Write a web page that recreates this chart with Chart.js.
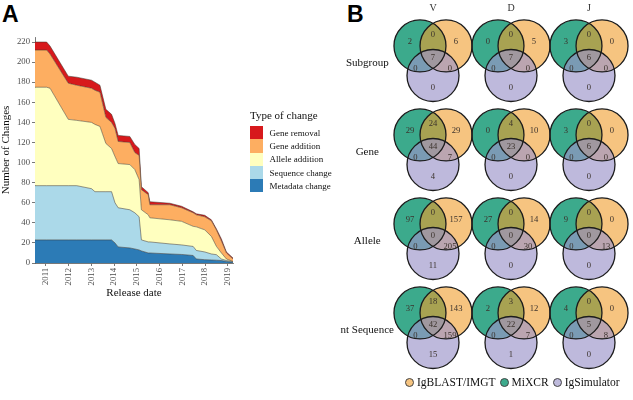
<!DOCTYPE html>
<html>
<head>
<meta charset="utf-8">
<script src="https://cdn.jsdelivr.net/npm/chart.js@4.4.1/dist/chart.umd.min.js"></script>
<style>
  body { margin: 0; background: #fff; width: 633px; height: 400px; position: relative; overflow: hidden;
         font-family: "Liberation Serif", "Times New Roman", serif; }
  canvas { position: absolute; }
  #chartA { left: 0; top: 0; }
  #chartB { left: 330px; top: -7px; }
  .panel { position: absolute; font-family: "Liberation Sans", Arial, sans-serif; font-weight: bold;
           font-size: 23px; line-height: 23px; color: #000; }
  #legendA { position: absolute; left: 250px; top: 109px; }
  #legendA .title { font-size: 11px; line-height: 13px; height: 17px; color: #111; }
  #legendA .row { display: flex; align-items: center; height: 13.3px; }
  #legendA .key { width: 12.6px; height: 13.3px; }
  #legendA .lab { font-size: 9px; margin-left: 7px; color: #111; }
  #legendB { position: absolute; left: 405px; top: 376px; display: flex; align-items: center;
             font-size: 11.5px; color: #111; white-space: nowrap; }
  #legendB .dot { width: 7px; height: 7px; border-radius: 50%; border: 1px solid #444; margin-right: 3px; }
  #legendB .lab { margin-right: 4px; }
</style>
</head>
<body>
<div class="panel" style="left:2px;top:3px;">A</div>
<div class="panel" style="left:347px;top:3px;">B</div>
<canvas id="chartA" width="245" height="310"></canvas>
<canvas id="chartB" width="324" height="408"></canvas>
<div id="legendA"></div>
<div id="legendB"></div>
<script>
// ---- Panel A: changes per release ----
var releaseDates = [2010.53, 2011.04, 2011.19, 2011.99, 2012.36, 2013.01, 2013.16, 2013.38, 2013.64, 2013.89,
                    2014.04, 2014.18, 2014.69, 2014.91, 2015.10, 2015.20, 2015.50, 2015.57, 2016.45, 2016.96,
                    2017.47, 2017.61, 2017.98, 2018.27, 2018.49, 2018.71, 2018.93, 2019.22];
var metadataChange = [23, 23, 23, 23, 23, 23, 23, 23, 23, 23, 20, 16, 15, 14, 13, 12, 10, 10, 9, 8.5,
                      7.5, 4, 3.3, 3, 2.8, 2.5, 1.5, 0.7];
var sequenceChange = [54, 54, 54, 54, 54, 51, 48, 48, 48, 48, 40, 39, 38, 36, 33, 11, 11, 11, 10, 9.5,
                      9, 8.5, 7.7, 6, 5.5, 1.5, 1, 0.6];
var alleleAddition = [98, 98, 97, 66, 65, 66, 67, 65, 48, 43, 46, 44, 45, 43, 37, 30, 27, 24, 24, 23.5,
                      20, 23.5, 22, 17.5, 8.3, 6, 1.5, 0.2];
var geneAddition = [37, 37, 34, 36, 35, 34, 34, 34, 26, 26, 28, 22, 22, 17, 24, 20, 20, 13, 15, 13.5,
                    13.5, 12, 13, 15.5, 16.4, 12, 6, 2.5];
var geneRemoval = [8, 8, 8, 7, 8, 8, 8, 7, 8, 8, 5, 6, 6, 8, 7, 3, 2, 3, 1.5, 1.5,
                   1, 1, 1.5, 1, 1, 2, 1, 1];
var yearTicks = [2011, 2012, 2013, 2014, 2015, 2016, 2017, 2018, 2019];
var countTicks = [0, 20, 40, 60, 80, 100, 120, 140, 160, 180, 200, 220];

var changeTypes = ["Metadata change", "Sequence change", "Allele addition", "Gene addition", "Gene removal"];
var changeValues = [metadataChange, sequenceChange, alleleAddition, geneAddition, geneRemoval];
var changeColors = ["#2c7bb6", "#abd9e9", "#ffffbf", "#fdae61", "#d7191c"];

var serif = "'Liberation Serif', 'Times New Roman', serif";

var axisStyle = {
    grid: { display: true, drawOnChartArea: false, drawTicks: true, tickLength: 3, color: "#555", lineWidth: 0.8 },
    border: { display: true, color: "#555", width: 0.8 }
};

new Chart(document.getElementById("chartA"), {
    type: "line",
    data: {
        datasets: changeTypes.map(function (name, i) {
            return {
                label: name,
                data: releaseDates.map(function (d, j) { return { x: d, y: changeValues[i][j] }; }),
                backgroundColor: changeColors[i],
                borderColor: "rgba(60,50,40,0.85)",
                borderWidth: 0.6,
                fill: i === 0 ? "origin" : "-1",
                pointRadius: 0,
                tension: 0
            };
        })
    },
    options: {
        responsive: false,
        animation: false,
        events: [],
        layout: { padding: { left: 0, right: 12, top: 37, bottom: 0 } },
        plugins: { legend: { display: false }, tooltip: { enabled: false } },
        scales: {
            x: Object.assign({
                type: "linear",
                min: 2010.53,
                max: 2019.22,
                afterBuildTicks: function (s) { s.ticks = yearTicks.map(function (v) { return { value: v }; }); },
                afterFit: function (s) { s.height = 47; },
                ticks: { autoSkip: false, minRotation: 90, maxRotation: 90, padding: 2,
                         callback: function (v) { return String(v); },
                         font: { family: serif, size: 8.7 }, color: "#4d4d4d" },
                title: { display: true, text: "Release date", font: { family: serif, size: 11 }, color: "#111",
                         padding: { top: 0, bottom: 10 } }
            }, axisStyle),
            y: Object.assign({
                stacked: true,
                min: 0,
                max: 225,
                afterBuildTicks: function (s) { s.ticks = countTicks.map(function (v) { return { value: v }; }); },
                afterFit: function (s) { s.width = 35; },
                ticks: { padding: 2, font: { family: serif, size: 8.7 }, color: "#4d4d4d" },
                title: { display: true, text: "Number of Changes", font: { family: serif, size: 11 }, color: "#111",
                         padding: { top: 0, bottom: 0 } }
            }, axisStyle)
        }
    }
});

// legend A (top to bottom, like the stack)
var legA = document.getElementById("legendA");
legA.innerHTML = '<div class="title">Type of change</div>' +
    changeTypes.slice().reverse().map(function (name, i) {
        return '<div class="row"><div class="key" style="background:' + changeColors[4 - i] + '"></div>' +
               '<span class="lab">' + name + '</span></div>';
    }).join("");

// ---- Panel B: Venn diagrams ----
var segments = ["V", "D", "J"];
var levels = ["Subgroup", "Gene", "Allele", "nt Sequence"];
var toolNames = ["IgBLAST/IMGT", "MiXCR", "IgSimulator"];
// region order: MiXCR only, MiXCR&IgBLAST, IgBLAST only, all three, MiXCR&IgSim, IgBLAST&IgSim, IgSim only
var subgroupCounts = [[2, 0, 6, 7, 0, 0, 0], [0, 0, 5, 7, 0, 0, 0], [3, 0, 0, 6, 0, 0, 0]];
var geneCounts = [[29, 24, 29, 44, 0, 7, 4], [0, 4, 10, 23, 0, 0, 0], [3, 0, 0, 6, 0, 0, 0]];
var alleleCounts = [[97, 0, 157, 0, 0, 205, 11], [27, 0, 14, 0, 0, 30, 0], [9, 0, 0, 0, 0, 13, 0]];
var ntSequenceCounts = [[37, 18, 143, 42, 0, 159, 15], [2, 3, 12, 22, 0, 7, 1], [4, 0, 0, 5, 0, 8, 0]];
var vennCounts = [subgroupCounts, geneCounts, alleleCounts, ntSequenceCounts];

// circle placement inside one cell (axis units) and label offsets (px)
var toolOffsets = [[0.167, -0.197], [-0.167, -0.197], [0, 0.135]];
var toolFill = ["rgba(240,157,43,0.6)", "rgb(60,170,140)", "rgba(155,148,201,0.65)"];
var toolOrder = [2, 3, 1];
var legendFill = ["#f6c480", "#3caa8c", "#bebadc"];
var labelOffsets = [[-23, -22], [0, -29], [23, -22], [0, -6], [-17.5, 5], [17, 5], [0, 24]];

function cellPoints(off) {
    var pts = [];
    levels.forEach(function (l, r) {
        segments.forEach(function (g, c) { pts.push({ x: c + off[0], y: r + off[1] }); });
    });
    return pts;
}

var vennText = {
    id: "vennText",
    afterDatasetsDraw: function (chart) {
        var ctx = chart.ctx, xs = chart.scales.x, ys = chart.scales.y;
        ctx.save();
        ctx.lineWidth = 1.3;
        ctx.strokeStyle = "#1c1c1c";
        chart.data.datasets.forEach(function (ds, i) {
            chart.getDatasetMeta(i).data.forEach(function (el) {
                ctx.beginPath();
                ctx.arc(el.x, el.y, el.options.radius, 0, Math.PI * 2);
                ctx.stroke();
            });
        });
        ctx.font = "8.6px " + serif;
        ctx.fillStyle = "#3b322c";
        ctx.textAlign = "center";
        ctx.textBaseline = "middle";
        vennCounts.forEach(function (level, r) {
            level.forEach(function (cell, c) {
                cell.forEach(function (n, k) {
                    ctx.fillText(String(n), xs.getPixelForValue(c) + labelOffsets[k][0],
                                 ys.getPixelForValue(r) + labelOffsets[k][1]);
                });
            });
        });
        ctx.restore();
    }
};

// bubble charts keep a radius-sized margin on every side, so the canvas is sized around it
new Chart(document.getElementById("chartB"), {
    type: "bubble",
    data: {
        datasets: toolNames.map(function (name, i) {
            return {
                label: name,
                data: cellPoints(toolOffsets[i]),
                backgroundColor: toolFill[i],
                borderWidth: 0,
                radius: 26,
                order: toolOrder[i],
                clip: false
            };
        })
    },
    options: {
        responsive: false,
        animation: false,
        events: [],
        layout: { padding: 0 },
        plugins: { legend: { display: false }, tooltip: { enabled: false } },
        scales: {
            x: {
                type: "linear", position: "top", min: -0.5, max: 2.5,
                afterBuildTicks: function (s) { s.ticks = segments.map(function (g, i) { return { value: i }; }); },
                afterFit: function (s) { s.height = 26; },
                ticks: { autoSkip: false, padding: 5, callback: function (v) { return segments[v]; },
                         font: { family: serif, size: 10 }, color: "#333" },
                grid: { display: false, drawTicks: false },
                border: { display: false }
            },
            y: {
                type: "linear", reverse: true, min: -0.5, max: 3.5,
                afterBuildTicks: function (s) { s.ticks = levels.map(function (l, i) { return { value: i }; }); },
                afterFit: function (s) { s.width = 64; },
                ticks: { autoSkip: false, padding: 0, crossAlign: "center",
                         callback: function (v) { return levels[v]; },
                         font: { family: serif, size: 11 }, color: "#111" },
                grid: { display: false, drawTicks: false },
                border: { display: false }
            }
        }
    },
    plugins: [vennText]
});

// legend B
document.getElementById("legendB").innerHTML = toolNames.map(function (name, i) {
    return '<div class="dot" style="background:' + legendFill[i] + '"></div><span class="lab">' + name + '</span>';
}).join("");
</script>
</body>
</html>
